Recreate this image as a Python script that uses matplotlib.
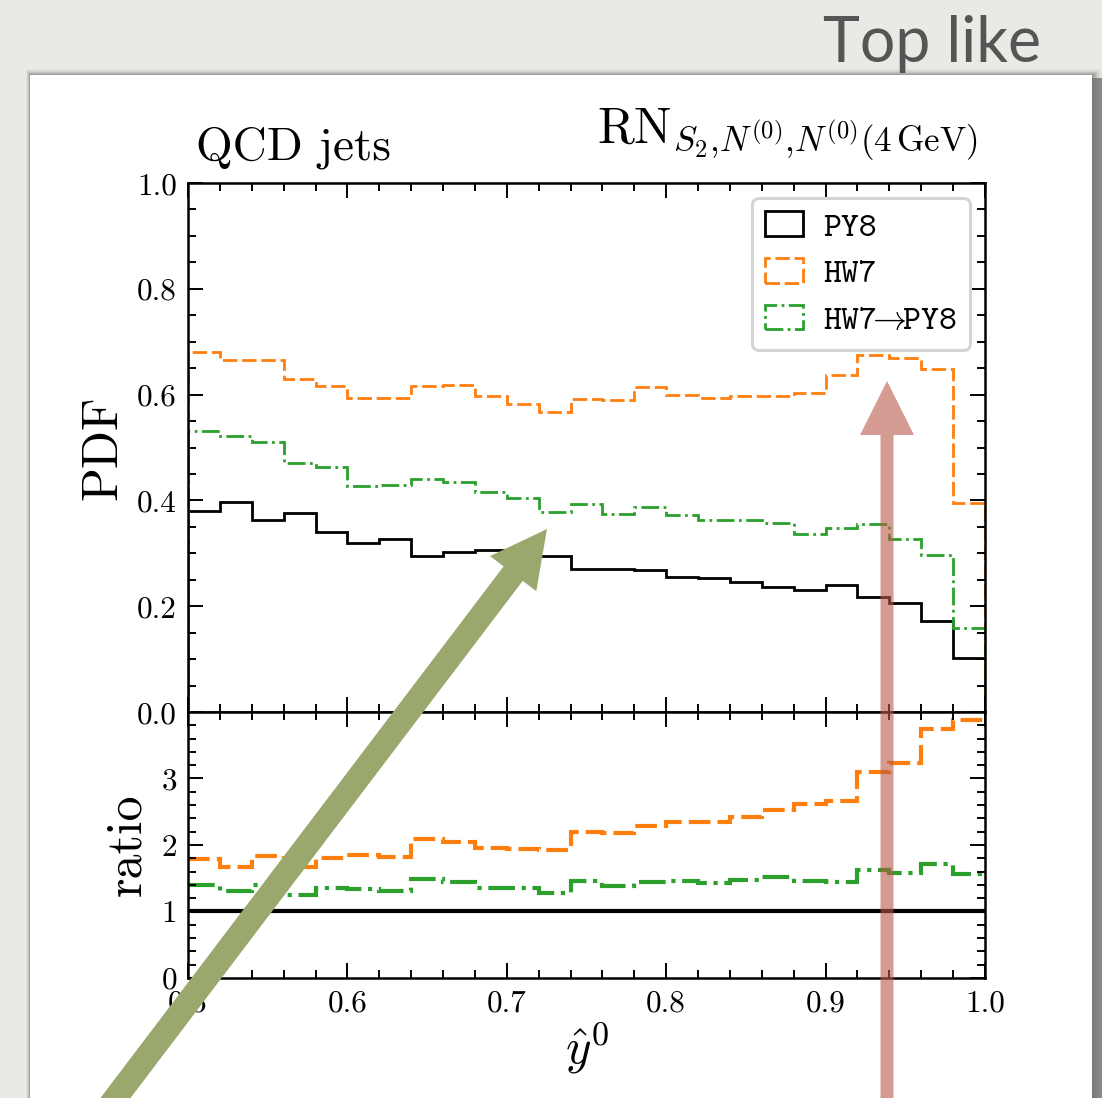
import numpy as np
import matplotlib
matplotlib.use("Agg")
import matplotlib.pyplot as plt
from matplotlib.patches import Rectangle, FancyArrow, Patch
from matplotlib.ticker import MultipleLocator, FormatStrFormatter

# ---------------- data ----------------
bin_edges = np.round(np.arange(0.5, 1.0001, 0.02), 4)
py8 = [0.380, 0.398, 0.363, 0.377, 0.341, 0.320, 0.327, 0.295, 0.302, 0.306,
       0.300, 0.295, 0.270, 0.270, 0.268, 0.256, 0.253, 0.246, 0.236, 0.231,
       0.240, 0.218, 0.207, 0.173, 0.102]
hw7 = [0.681, 0.666, 0.666, 0.629, 0.616, 0.594, 0.594, 0.616, 0.618, 0.597,
       0.582, 0.567, 0.592, 0.590, 0.614, 0.599, 0.594, 0.597, 0.597, 0.604,
       0.637, 0.675, 0.669, 0.648, 0.396]
hw7_to_py8 = [0.532, 0.521, 0.510, 0.471, 0.463, 0.427, 0.430, 0.440, 0.434, 0.416,
              0.404, 0.378, 0.393, 0.374, 0.387, 0.372, 0.363, 0.363, 0.357, 0.336,
              0.347, 0.355, 0.328, 0.296, 0.159]
series_labels = ["PY8", "HW7", r"HW7$\!\!\rightarrow\!\!$PY8"]
x_ticks = [0.5, 0.6, 0.7, 0.8, 0.9, 1.0]
pdf_ticks = [0.0, 0.2, 0.4, 0.6, 0.8, 1.0]
ratio_ticks = [0, 1, 2, 3]

# ---------------- style ----------------
plt.rcParams['font.family'] = ['cmr10', 'DejaVu Serif']
plt.rcParams['mathtext.fontset'] = 'cm'
plt.rcParams['axes.unicode_minus'] = False
plt.rcParams['axes.formatter.use_mathtext'] = True

W, H = 1102, 1098
fig = plt.figure(figsize=(W / 100, H / 100), dpi=100)
fig.patch.set_facecolor('#ebe9e5')

# background layer (panel + shadow)
bg = fig.add_axes([0, 0, 1, 1])
bg.set_xlim(0, W); bg.set_ylim(H, 0); bg.axis('off'); bg.set_zorder(-5)
for i, a in enumerate([0.10, 0.16, 0.24, 0.34, 0.46, 0.58]):
    d = 10 - i * 1.6
    bg.add_patch(Rectangle((30 - d * 0.4, 75 - d * 0.6), 1062 + d * 1.4, H, color='0.35', alpha=a * 0.35, lw=0))
bg.add_patch(Rectangle((1092, 78), 10, H, color='0.45', alpha=0.8, lw=0))
bg.add_patch(Rectangle((30, 75), 1062, H, color='white', lw=0))
bg.text(1041, 62, "Top like", fontsize=45, family=['Lato', 'DejaVu Sans'], color='#555555',
        ha='right', va='baseline')

c_py8, c_hw7, c_mix = 'black', '#ff7f0e', '#2ca02c'
ls_hw7 = (0, (5.2, 1.7))
ls_mix = (0, (6.4, 1.6, 1.0, 1.6))

ax = fig.add_axes([0.1706, 0.3515, 0.7232, 0.4818])
rx = fig.add_axes([0.1706, 0.1093, 0.7232, 0.2423], sharex=ax)

ax.stairs(py8, bin_edges, baseline=0, color=c_py8, lw=2.0)
ax.stairs(hw7, bin_edges, baseline=0, color=c_hw7, lw=2.0, linestyle=ls_hw7)
ax.stairs(hw7_to_py8, bin_edges, baseline=0, color=c_mix, lw=2.0, linestyle=ls_mix)

py8_a = np.array(py8)
rx.stairs(py8_a / py8_a, bin_edges, baseline=None, color=c_py8, lw=3.0)
rx.stairs(np.array(hw7) / py8_a, bin_edges, baseline=None, color=c_hw7, lw=3.0, linestyle=ls_hw7)
rx.stairs(np.array(hw7_to_py8) / py8_a, bin_edges, baseline=None, color=c_mix, lw=3.0, linestyle=ls_mix)

ax.set_xlim(0.5, 1.0)
ax.set_ylim(0.0, 1.0)
rx.set_ylim(0, 4)
ax.set_yticks(pdf_ticks)
ax.yaxis.set_minor_locator(MultipleLocator(0.05))
ax.yaxis.set_major_formatter(FormatStrFormatter('%.1f'))
rx.set_xticks(x_ticks)
rx.xaxis.set_minor_locator(MultipleLocator(0.02))
rx.xaxis.set_major_formatter(FormatStrFormatter('%.1f'))
rx.set_yticks(ratio_ticks)
rx.yaxis.set_minor_locator(MultipleLocator(0.2))
rx.yaxis.set_major_formatter(FormatStrFormatter('%d'))
plt.setp(ax.get_xticklabels(), visible=False)

for a in (ax, rx):
    a.tick_params(which='both', direction='in', top=True, right=True, labelsize=22.5, pad=8, width=1.4)
    a.tick_params(which='major', length=11)
    a.tick_params(which='minor', length=5.5)
    for s in a.spines.values():
        s.set_linewidth(1.8)

ax.set_ylabel("PDF", fontsize=36, labelpad=8)
rx.set_ylabel("ratio", fontsize=36, labelpad=8)
rx.set_xlabel(r"$\hat{y}^0$", fontsize=35, labelpad=2)

ax.text(0.01, 1.045, "QCD jets", transform=ax.transAxes, fontsize=34, ha='left', va='baseline')
ax.text(0.991, 1.075, r"$\mathrm{RN}_{S_2{,}N^{(0)}{,}N^{(0)}(4\,\mathrm{GeV})}$", transform=ax.transAxes,
        fontsize=36, ha='right', va='baseline')

handles = [Patch(facecolor='none', edgecolor=c_py8, lw=2.0),
           Patch(facecolor='none', edgecolor=c_hw7, lw=2.0, linestyle=ls_hw7),
           Patch(facecolor='none', edgecolor=c_mix, lw=2.0, linestyle=ls_mix)]
leg = ax.legend(handles, series_labels, loc='upper right', prop={'family': ['cmtt10'], 'size': 24.5},
                handlelength=1.1, handleheight=0.75, handletextpad=0.6, labelspacing=0.42,
                borderpad=0.38, borderaxespad=0.45, fancybox=True, framealpha=1, edgecolor='#d4d4d4')
leg.get_frame().set_linewidth(2.2)

# foreground annotation arrows
fg = fig.add_axes([0, 0, 1, 1])
fg.set_xlim(0, W); fg.set_ylim(H, 0); fg.axis('off'); fg.set_zorder(10)
fg.add_patch(FancyArrow(95, 1125, 547 - 95, 529 - 1125, width=24, head_width=58, head_length=56,
                        length_includes_head=True, color=(154/255, 168/255, 110/255), lw=0))
fg.add_patch(FancyArrow(887, 1125, 0, 381 - 1125, width=13, head_width=54, head_length=54,
                        length_includes_head=True, color=(183/255, 88/255, 72/255), alpha=0.6, lw=0))

fig.savefig("out.png", dpi=100)
